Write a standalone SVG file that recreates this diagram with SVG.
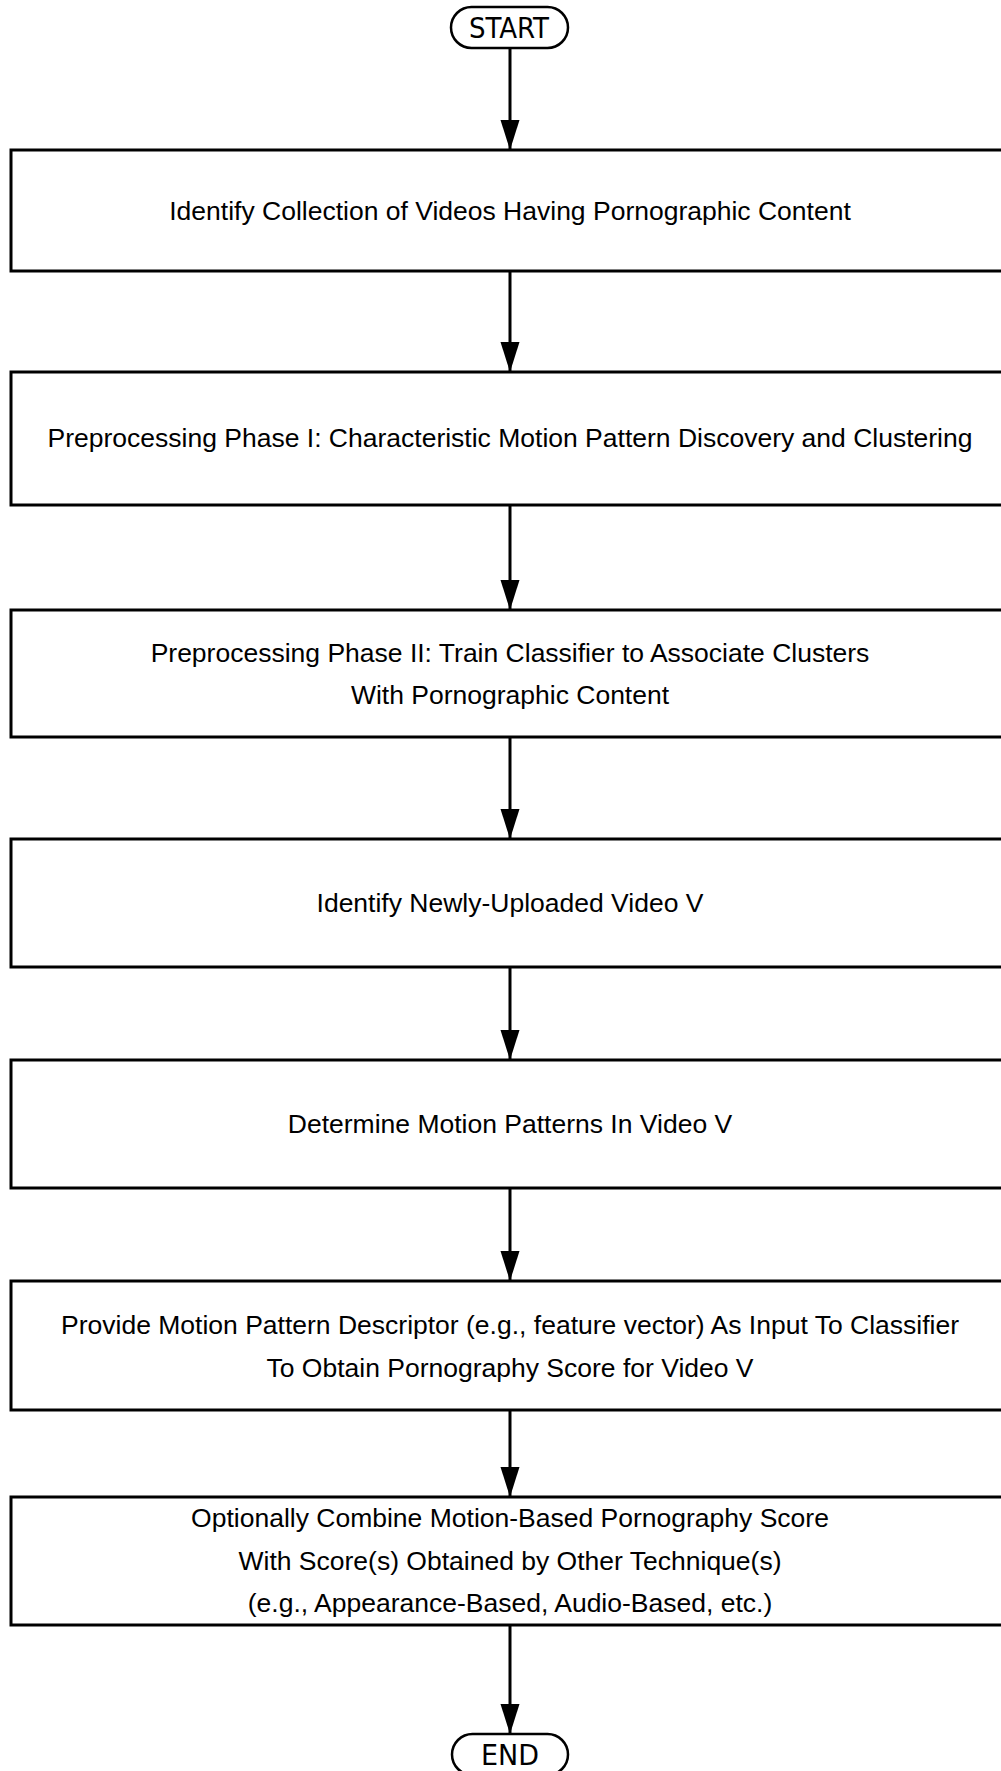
<svg xmlns="http://www.w3.org/2000/svg" width="1001" height="1771" viewBox="0 0 1001 1771">
<defs>
<style>
.box{fill:#fff;stroke:#000;stroke-width:3}
.term{fill:#fff;stroke:#000;stroke-width:2.5}
.lbl{font-family:"Liberation Sans",Arial,sans-serif;font-size:26.5px;fill:#000;text-anchor:middle}
.tlbl{font-family:"DejaVu Sans Condensed","DejaVu Sans",sans-serif;font-stretch:condensed;font-size:29px;fill:#000;text-anchor:middle}
.conn{stroke:#000;stroke-width:3;fill:none;marker-end:url(#ah)}
</style>
<marker id="ah" markerUnits="userSpaceOnUse" markerWidth="30" markerHeight="20" refX="30" refY="9.5" orient="auto">
<path d="M0,0 L30,9.5 L0,19 z" fill="#000"/>
</marker>
</defs>
<rect width="1001" height="1771" fill="#fff"/>
<g id="connectors">
<line class="conn" x1="510" y1="48" x2="510" y2="150"/>
<line class="conn" x1="510" y1="271" x2="510" y2="372"/>
<line class="conn" x1="510" y1="505" x2="510" y2="610"/>
<line class="conn" x1="510" y1="737" x2="510" y2="839"/>
<line class="conn" x1="510" y1="967" x2="510" y2="1060"/>
<line class="conn" x1="510" y1="1188" x2="510" y2="1281"/>
<line class="conn" x1="510" y1="1410" x2="510" y2="1497"/>
<line class="conn" x1="510" y1="1625" x2="510" y2="1734"/>
</g>
<g id="start">
<rect class="term" x="451" y="7" width="117" height="41" rx="20.5"/>
<text class="tlbl" x="509" y="38" textLength="80" lengthAdjust="spacingAndGlyphs">START</text>
</g>
<g id="n1">
<rect class="box" x="11" y="150" width="1003" height="121"/>
<text class="lbl" x="510" y="220">Identify Collection of Videos Having Pornographic Content</text>
</g>
<g id="n2">
<rect class="box" x="11" y="372" width="1003" height="133"/>
<text class="lbl" x="510" y="447">Preprocessing Phase I: Characteristic Motion Pattern Discovery and Clustering</text>
</g>
<g id="n3">
<rect class="box" x="11" y="610" width="1003" height="127"/>
<text class="lbl" x="510" y="662">Preprocessing Phase II: Train Classifier to Associate Clusters</text>
<text class="lbl" x="510" y="704">With Pornographic Content</text>
</g>
<g id="n4">
<rect class="box" x="11" y="839" width="1003" height="128"/>
<text class="lbl" x="510" y="912">Identify Newly-Uploaded Video V</text>
</g>
<g id="n5">
<rect class="box" x="11" y="1060" width="1003" height="128"/>
<text class="lbl" x="510" y="1133">Determine Motion Patterns In Video V</text>
</g>
<g id="n6">
<rect class="box" x="11" y="1281" width="1003" height="129"/>
<text class="lbl" x="510" y="1334">Provide Motion Pattern Descriptor (e.g., feature vector) As Input To Classifier</text>
<text class="lbl" x="510" y="1377">To Obtain Pornography Score for Video V</text>
</g>
<g id="n7">
<rect class="box" x="11" y="1497" width="1003" height="128"/>
<text class="lbl" x="510" y="1527">Optionally Combine Motion-Based Pornography Score</text>
<text class="lbl" x="510" y="1570">With Score(s) Obtained by Other Technique(s)</text>
<text class="lbl" x="510" y="1612">(e.g., Appearance-Based, Audio-Based, etc.)</text>
</g>
<g id="end">
<rect class="term" x="452" y="1734" width="116" height="41" rx="20.5"/>
<text class="tlbl" x="510" y="1765" textLength="58" lengthAdjust="spacingAndGlyphs">END</text>
</g>
</svg>
